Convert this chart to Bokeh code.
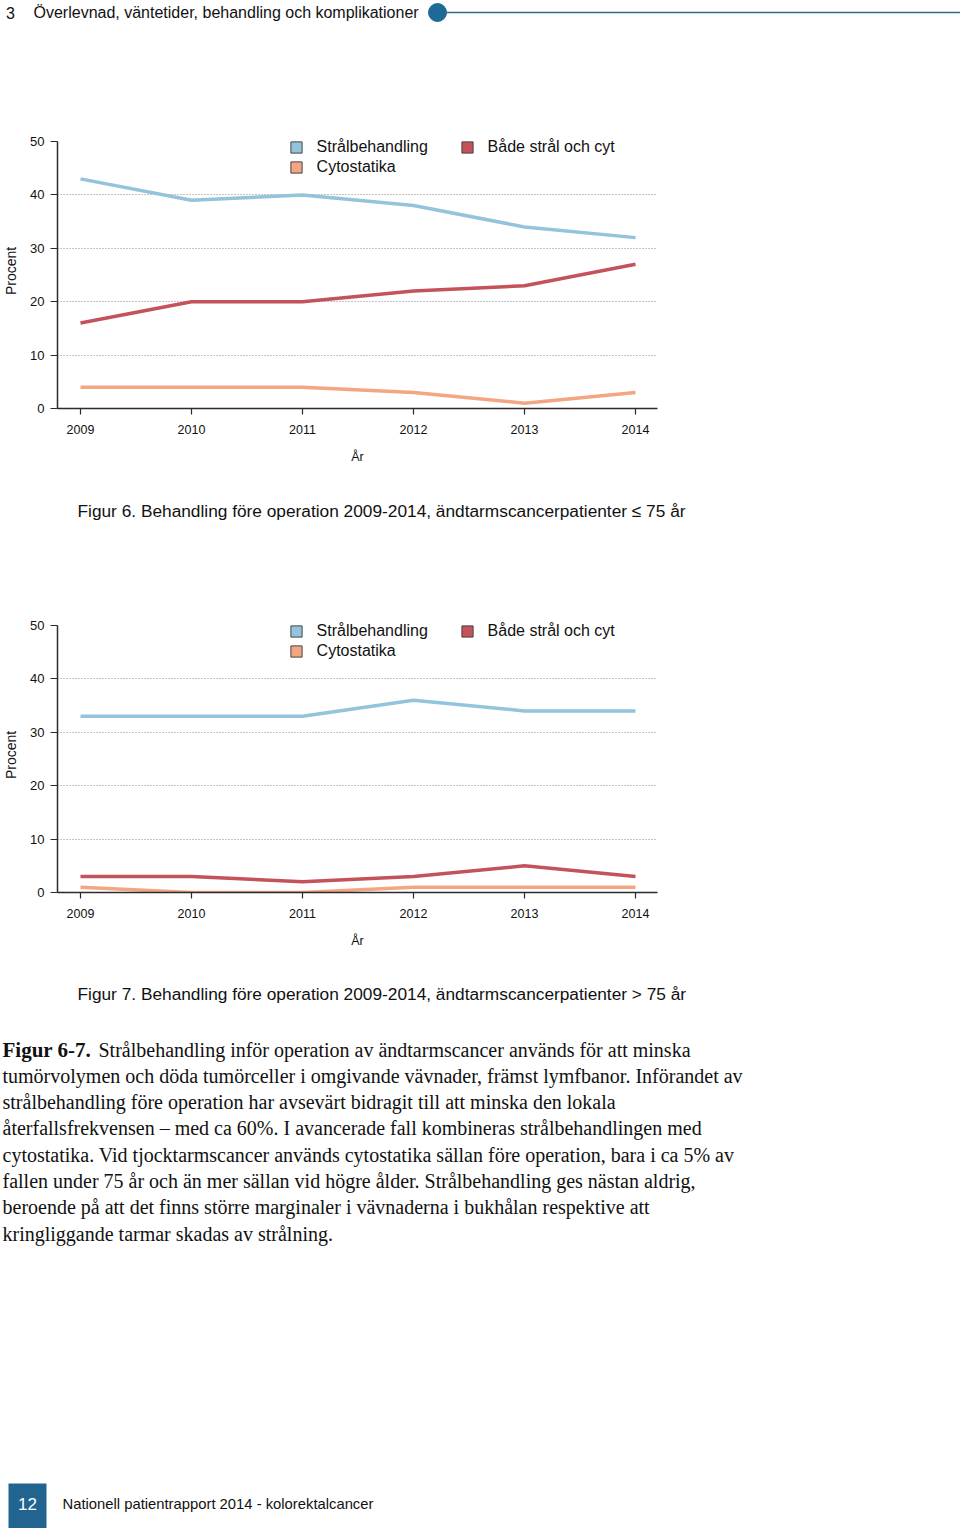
from bokeh.plotting import figure
from bokeh.layouts import column
from bokeh.models import Range1d, Legend, LegendItem, FixedTicker
from bokeh.embed import file_html
from bokeh.resources import INLINE
from bokeh.core.properties import value

# ---------------- data ----------------
years = [2009, 2010, 2011, 2012, 2013, 2014]
series_names = ["Strålbehandling", "Cytostatika", "Både strål och cyt"]
le75_stral = [43, 39, 40, 38, 34, 32]
le75_cyto = [4, 4, 4, 3, 1, 3]
le75_bada = [16, 20, 20, 22, 23, 27]
gt75_stral = [33, 33, 33, 36, 34, 34]
gt75_cyto = [1, 0, 0, 1, 1, 1]
gt75_bada = [3, 3, 2, 3, 5, 3]
y_ticks = [0, 10, 20, 30, 40, 50]
grid_levels = [10, 20, 30, 40]

header_num = "3"
header_title = "Överlevnad, väntetider, behandling och komplikationer"
caption6 = "Figur 6. Behandling före operation 2009-2014, ändtarmscancerpatienter ≤ 75 år"
caption7 = "Figur 7. Behandling före operation 2009-2014, ändtarmscancerpatienter > 75 år"
para_bold = "Figur 6-7."
para_lines = [
    "Strålbehandling inför operation av ändtarmscancer används för att minska",
    "tumörvolymen och döda tumörceller i omgivande vävnader, främst lymfbanor. Införandet av",
    "strålbehandling före operation har avsevärt bidragit till att minska den lokala",
    "återfallsfrekvensen – med ca 60%. I avancerade fall kombineras strålbehandlingen med",
    "cytostatika. Vid tjocktarmscancer används cytostatika sällan före operation, bara i ca 5% av",
    "fallen under 75 år och än mer sällan vid högre ålder. Strålbehandling ges nästan aldrig,",
    "beroende på att det finns större marginaler i vävnaderna i bukhålan respektive att",
    "kringliggande tarmar skadas av strålning.",
]
footer_page = "12"
footer_text = "Nationell patientrapport 2014 - kolorektalcancer"

# ---------------- style ----------------
W = 960
C_STRAL = "#93C4DC"
C_CYTO = "#F4A582"
C_BADA = "#C4525A"
SANS = "Liberation Sans"
SERIF = "Liberation Serif"
DARK = "#2b2b2b"


def text_fig(h):
    p = figure(width=W, height=h, x_range=Range1d(0, W), y_range=Range1d(h, 0),
               x_axis_type=None, y_axis_type=None, output_backend="svg",
               toolbar_location=None, min_border=0, outline_line_color=None,
               frame_align=False)
    p.grid.visible = False
    return p


def chart(stral, cyto, bada, h, top_b, bot_b):
    p = figure(width=W, height=h, x_range=Range1d(2008.793, 2014.198), y_range=Range1d(0, 51.5),
               output_backend="svg", toolbar_location=None, frame_align=False,
               min_border_left=57, min_border_right=303, min_border_top=top_b,
               min_border_bottom=bot_b, outline_line_color=None)
    p.xgrid.visible = False
    p.ygrid.ticker = FixedTicker(ticks=grid_levels)
    p.ygrid.grid_line_color = "#8a8a8a"
    p.ygrid.grid_line_dash = "1 2"
    p.ygrid.grid_line_width = 1

    for ax in (p.xaxis, p.yaxis):
        ax.axis_line_color = DARK
        ax.axis_line_width = 1.5
        ax.major_tick_line_color = DARK
        ax.major_tick_line_width = 1.2
        ax.major_tick_in = 0
        ax.minor_tick_line_color = None
        ax.major_label_text_font = SANS
        ax.major_label_text_color = "#111111"
        ax.axis_label_text_font = SANS
        ax.axis_label_text_font_style = "normal"
        ax.axis_label_text_color = "#111111"

    p.xaxis.ticker = FixedTicker(ticks=years)
    p.xaxis.major_tick_out = 6
    p.xaxis.major_label_standoff = 10
    p.xaxis.major_label_text_font_size = "12.5px"
    p.xaxis.axis_label = "År"
    p.xaxis.axis_label_text_font_size = "12.5px"
    p.xaxis.axis_label_standoff = 13

    p.yaxis.ticker = FixedTicker(ticks=y_ticks)
    p.yaxis.bounds = (0, 50)
    p.yaxis.major_tick_out = 7
    p.yaxis.major_label_standoff = 6
    p.yaxis.major_label_text_font_size = "13px"
    p.yaxis.axis_label = "Procent"
    p.yaxis.axis_label_text_font_size = "14px"
    p.yaxis.axis_label_standoff = 8

    for vals, col in ((stral, C_STRAL), (bada, C_BADA), (cyto, C_CYTO)):
        p.line(years, vals, line_color=col, line_width=3.5, line_join="round")

    proxies = []
    nan = float("nan")
    for col in (C_STRAL, C_CYTO, C_BADA):
        proxies.append(p.quad(left=[nan], right=[nan], top=[nan], bottom=[nan], fill_color=col,
                              line_color="#444444", line_width=1))
    legend = Legend(items=[LegendItem(label=n, renderers=[r]) for n, r in zip(series_names, proxies)],
                    orientation="vertical", nrows=2, location=(231.6, 231),
                    margin=0, padding=0, spacing=0, glyph_width=14, glyph_height=14,
                    label_height=20, label_width=143, label_standoff=14,
                    label_text_font=SANS, label_text_font_size="16px",
                    label_text_color="#111111", border_line_color=None,
                    background_fill_alpha=0)
    p.add_layout(legend)
    return p


# ---------------- header ----------------
hdr = text_fig(60)
hdr.text(x=[10], y=[12], text=[header_num], text_font=value(SANS), text_font_size="16px",
         text_align="center", text_baseline="middle", text_color="#111111")
hdr.text(x=[33], y=[12], text=[header_title], text_font=value(SANS), text_font_size="16px",
         text_align="left", text_baseline="middle", text_color="#111111")
hdr.segment(x0=[446], y0=[12], x1=[960], y1=[12], line_color="#2f6e8c", line_width=1.5)
hdr.scatter(x=[437], y=[12], size=18, marker="circle", fill_color="#1d6a96", line_color="#1d6a96")

# ---------------- charts ----------------
ch1 = chart(le75_stral, le75_cyto, le75_bada, 420, 73, 72)

cap1 = text_fig(60)
cap1.text(x=[77], y=[30], text=[caption6], text_font=value(SANS), text_font_size="17.3px",
          text_align="left", text_baseline="middle", text_color="#111111")

ch2 = chart(gt75_stral, gt75_cyto, gt75_bada, 425, 77, 73)

# ---------------- caption 2, paragraph, footer ----------------
H5 = 563
bot = text_fig(H5)
bot.text(x=[77], y=[28], text=[caption7], text_font=value(SANS), text_font_size="17.3px",
         text_align="left", text_baseline="middle", text_color="#111111")
line_y0 = 84
line_dy = 26.3
bot.text(x=[2], y=[line_y0], text=[para_bold], text_font=value(SERIF), text_font_size="21px",
         text_font_style="bold", text_align="left", text_baseline="middle", text_color="#111111")
xs = [98] + [2] * (len(para_lines) - 1)
ys = [line_y0 + i * line_dy for i in range(len(para_lines))]
bot.text(x=xs, y=ys, text=para_lines, text_font=value(SERIF), text_font_size="20px",
         text_align="left", text_baseline="middle", text_color="#111111")
bot.quad(left=[8], right=[46], top=[1483 - 965], bottom=[H5], fill_color="#20648f", line_color=None)
bot.text(x=[27], y=[1503 - 965], text=[footer_page], text_font=value(SANS), text_font_size="17px",
         text_align="center", text_baseline="middle", text_color="white")
bot.text(x=[62], y=[1503 - 965], text=[footer_text], text_font=value(SANS), text_font_size="14.8px",
         text_align="left", text_baseline="middle", text_color="#111111")

page = column(hdr, ch1, cap1, ch2, bot, spacing=0)

open("out.html", "w").write(file_html(page, INLINE))
